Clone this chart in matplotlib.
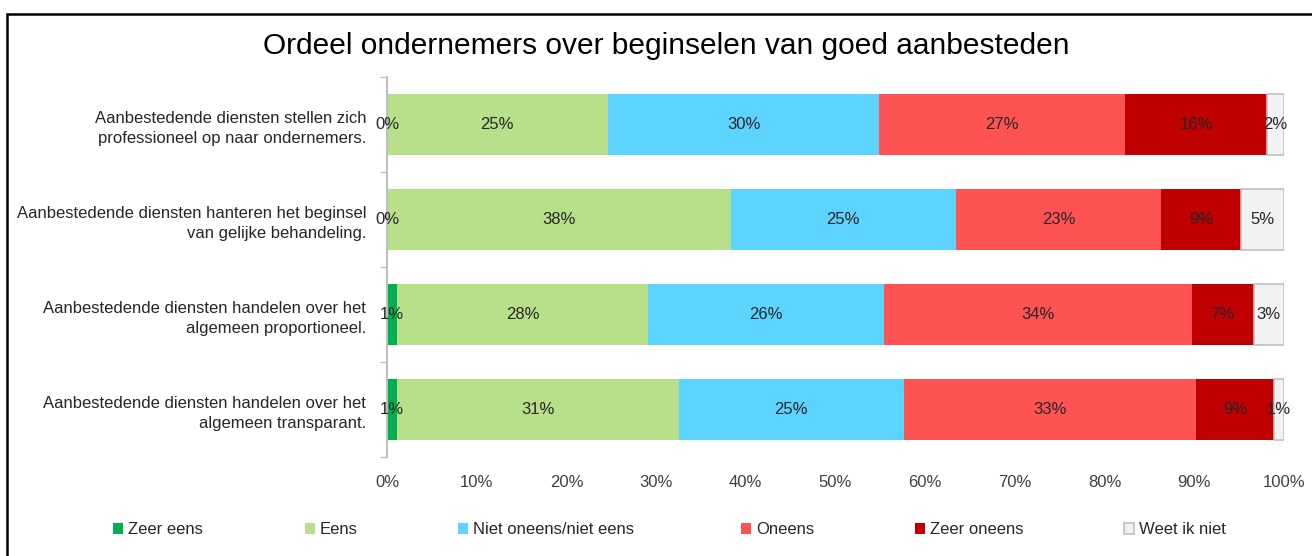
import matplotlib
matplotlib.use('Agg')
import matplotlib.pyplot as plt
import numpy as np
from matplotlib.patches import Rectangle

categories = [
    'Aanbestedende diensten stellen zich\nprofessioneel op naar ondernemers.',
    'Aanbestedende diensten hanteren het beginsel\nvan gelijke behandeling.',
    'Aanbestedende diensten handelen over het\nalgemeen proportioneel.',
    'Aanbestedende diensten handelen over het\nalgemeen transparant.',
]
series = ['Zeer eens', 'Eens', 'Niet oneens/niet eens', 'Oneens', 'Zeer oneens', 'Weet ik niet']
zeer_eens = [0.0, 0.0, 1.1, 1.1]
eens = [24.6, 38.3, 28.0, 31.4]
niet_oneens = [30.3, 25.1, 26.3, 25.1]
oneens = [27.4, 22.9, 34.3, 32.6]
zeer_oneens = [15.8, 8.9, 6.9, 8.7]
weet_niet = [1.9, 4.8, 3.4, 1.1]
xticks = [0, 10, 20, 30, 40, 50, 60, 70, 80, 90, 100]

colors = ['#00B050', '#B8E08B', '#5CD4FF', '#FF5252', '#C00000', '#F2F2F2']
edges = ['none', 'none', 'none', 'none', 'none', '#BFBFBF']

W, H = 1312, 556
plt.rcParams['font.family'] = ['Liberation Sans', 'DejaVu Sans']

fig = plt.figure(figsize=(W / 100, H / 100), dpi=100)
ax = fig.add_axes([387 / W, 1 - 457 / H, (1284 - 387) / W, (457 - 77) / H])

values = np.array([zeer_eens, eens, niet_oneens, oneens, zeer_oneens, weet_niet])
y = np.arange(len(categories))
left = np.zeros(len(categories))
handles = []
for k in range(len(series)):
    b = ax.barh(y, values[k], 0.65, left=left, color=colors[k], edgecolor=edges[k],
                linewidth=1.2 if k == 5 else 0, label=series[k])
    handles.append(b)
    for i in range(len(categories)):
        ax.text(left[i] + values[k][i] / 2, y[i], '%d%%' % round(values[k][i]),
                ha='center', va='center', fontsize=12, color='#262626')
    left += values[k]

ax.set_xlim(0, 100)
ax.set_ylim(len(categories) - 0.5, -0.5)
ax.set_xticks(xticks)
ax.set_xticklabels(['%d%%' % t for t in xticks], fontsize=12, color='#404040')
ax.tick_params(axis='x', length=0, pad=13)
ax.set_yticks(y)
ax.set_yticklabels(categories, fontsize=12, color='#262626', linespacing=1.45)
ax.set_yticks(np.arange(len(categories) + 1) - 0.5, minor=True)
ax.tick_params(axis='y', which='major', length=0, pad=15)
ax.tick_params(axis='y', which='minor', length=5, color='#BFBFBF', width=1)
for s in ['top', 'right', 'bottom']:
    ax.spines[s].set_visible(False)
ax.spines['left'].set_color('#BFBFBF')
ax.spines['left'].set_linewidth(1.5)

fig.text(666 / W, 1 - 46 / H, 'Ordeel ondernemers over beginselen van goed aanbesteden',
         ha='center', va='center', fontsize=21.5, color='black')

# legend entries placed one by one
leg_x = [113, 305, 458, 741, 915, 1124]
for k in range(len(series)):
    lg = fig.legend(handles=[handles[k]], loc='center left',
                    bbox_to_anchor=(leg_x[k] / W, 1 - 530 / H), frameon=False,
                    fontsize=12, handlelength=0.6, handleheight=0.6,
                    handletextpad=0.3, borderpad=0, borderaxespad=0)
    for t in lg.get_texts():
        t.set_color('#262626')

# chart border
fig.patches.append(Rectangle((7 / W, -0.05), 1.1, 1 - 14 / H + 0.05, transform=fig.transFigure,
                             fill=False, edgecolor='black', linewidth=1.8))

fig.savefig('out.png', dpi=100)
